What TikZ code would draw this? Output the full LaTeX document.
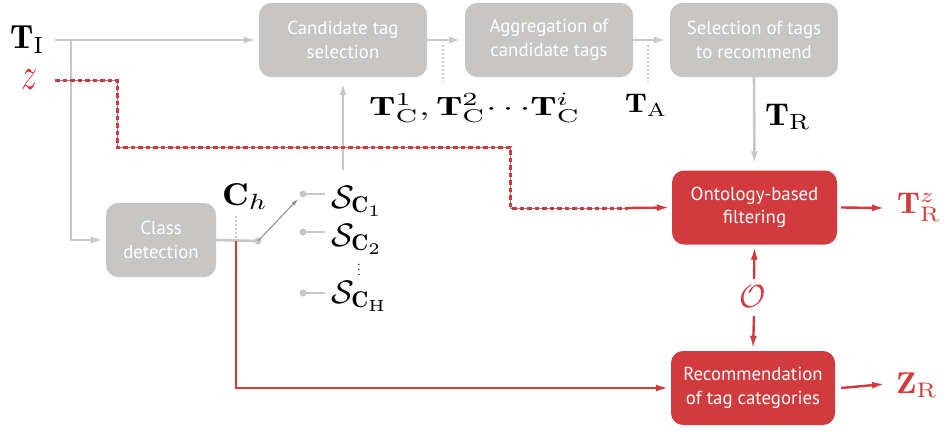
\documentclass[tikz,border=0pt]{standalone}
\usepackage{graphicx}
\usepackage{fontspec}
\newfontfamily\boxfont{PT Sans}
\usetikzlibrary{arrows.meta}
\definecolor{boxgray}{HTML}{C7C6C4}
\definecolor{linegray}{HTML}{C8C7C6}
\definecolor{myred}{HTML}{D23B3E}
\definecolor{darkgray}{HTML}{8A8A8A}
\newcommand\sbx[3]{\scalebox{#1}[#2]{$#3$}}
\begin{document}
\begin{tikzpicture}[x=1pt,y=-1pt,
  box/.style={rounded corners=12pt, minimum width=168pt, minimum height=74pt,
    align=center, font=\boxfont\fontsize{18.8}{23.5}\selectfont, text=white, inner sep=0pt},
  gbox/.style={box, fill=boxgray},
  rbox/.style={box, fill=myred},
  tip/.style={-{Latex[length=13pt,width=7pt]}},
  gline/.style={draw=linegray, line width=2.6pt},
  rline/.style={draw=myred, line width=2.4pt},
  gdot/.style={draw=linegray, line width=1.6pt, dash pattern=on 2pt off 2pt},
  lab/.style={inner sep=0pt, anchor=base west, font=\fontsize{10}{12}\selectfont},
  rlab/.style={lab, text=myred},
  dotnode/.style={circle, fill=linegray, inner sep=0pt, minimum size=7pt}
]
\useasboundingbox (0,0) rectangle (947,431);

% boxes
\node[gbox] (cts) at (343,40) {Candidate tag\\selection};
\node[gbox] (agg) at (549,40) {Aggregation of\\candidate tags};
\node[gbox] (sel) at (754,40) {Selection of tags\\to recommend};
\node[gbox, minimum width=110pt] (cd) at (161,240) {Class\\detection};
\node[rbox, minimum width=165pt] (of) at (754.5,207.5) {Ontology-based\\filtering};
\node[rbox, minimum width=164pt] (rec) at (753,388) {Recommendation\\of tag categories};

% labels
\node[lab] (lti) at (10,48) {\sbx{3.35}{3.35}{\mathbf{T}_{\mathrm{I}}}};
\node[rlab] (lz) at (21,89) {\sbx{3.2}{4.6}{z}};
\node[lab] (ltc) at (369,115) {\sbx{3.8}{2.65}{\mathbf{T}_{\mathrm{C}}^{1},\mathbf{T}_{\mathrm{C}}^{2}{\cdots}\mathbf{T}_{\mathrm{C}}^{i}}};
\node[lab] (lta) at (625,112) {\sbx{3.15}{2.7}{\mathbf{T}_{\mathrm{A}}}};
\node[lab] (ltr) at (765,125) {\sbx{3.45}{3.15}{\mathbf{T}_{\mathrm{R}}}};
\node[lab] (lch) at (222,205) {\sbx{3.7}{3.15}{\mathbf{C}_{h}}};
\node[lab] (s1) at (331,208) {\sbx{3.35}{3.25}{\mathcal{S}_{\mathbf{C}_1}}};
\node[lab] (s2) at (331,246) {\sbx{3.35}{3.25}{\mathcal{S}_{\mathbf{C}_2}}};
\node[lab] (sh) at (331,303) {\sbx{3.35}{3.25}{\mathcal{S}_{\mathbf{C}_{\mathrm{H}}}}};
\node[lab, anchor=center] (vd) at (359,266) {\sbx{1.5}{1.2}{\vdots}};
\node[rlab] (lo) at (739,307) {\sbx{3.2}{3.2}{\mathcal{O}}};
\node[rlab] (ltrz) at (897,213) {\sbx{3.3}{3.0}{\mathbf{T}_{\mathrm{R}}^{z}}};
\node[rlab] (lzr) at (896,393) {\sbx{3.35}{3.0}{\mathbf{Z}_{\mathrm{R}}}};

% coordinates
\coordinate (tis) at (55,40);
\coordinate (br) at (71,40);
\coordinate (zs) at (55,80);
\coordinate (z1) at (117,80);
\coordinate (z2) at (117,147);
\coordinate (z3) at (510,147);
\coordinate (z4) at (510,208);
\coordinate (z5) at (628,208);
\coordinate (sw) at (258,241);
\coordinate (chd) at (236,241);
\coordinate (s1u) at (343,170);
\coordinate (d1) at (443,45);
\coordinate (d1b) at (443,82);
\coordinate (d2) at (648,45);
\coordinate (d2b) at (648,82);
\coordinate (ou) at (754,279);
\coordinate (od) at (754,316);
\coordinate (e1) at (325,194);
\coordinate (e2) at (325,232);
\coordinate (e3) at (325,293);

% top flow
\draw[gline, tip] (tis) -- ([xshift=-2pt]cts.west);
\draw[gline, tip] (br) |- ([xshift=-2pt]cd.west);
\draw[gline, tip] (cts.east) -- ([xshift=-3pt]agg.west);
\draw[gline, tip] (agg.east) -- ([xshift=-3pt]sel.west);
\draw[gdot] (d1) -- (d1b);
\draw[gdot] (d2) -- (d2b);
\draw[gline, tip, shorten >=6pt] (sel.south) -- (of.north);
\draw[gline, tip, shorten >=5pt] (s1u) -- (s1u |- cts.south);

% z path
\draw[draw=darkgray, line width=0.8pt] (zs) -- (z1) -- (z2) -- (z3) -- (z4) -- (z5);
\draw[draw=myred, line width=3pt, dash pattern=on 4.5pt off 3pt] (zs) -- (z1) -- (z2) -- (z3) -- (z4) -- (z5);
\draw[rline, tip] (z5) -- ([xshift=-2pt]of.west);

% class detection output and switch
\draw[gline] (cd.east) -- (sw);
\draw[gdot] (236,216) -- (236,238);
\node[dotnode] (sd) at (sw) {};
\node[dotnode] (p1) at (303,194) {};
\node[dotnode] (p2) at (303,232) {};
\node[dotnode] (p3) at (303,293) {};
\draw[gline] (p1.center) -- (e1);
\draw[gline] (p2.center) -- (e2);
\draw[gline] (p3.center) -- (e3);
\draw[draw=darkgray, line width=1pt, -{Latex[length=7pt,width=4pt]}] (sw) -- (298,199);
\draw[rline, tip] (chd) |- ([xshift=-2pt]rec.west);

% ontology
\draw[rline, tip] (ou) -- ([yshift=-2pt]of.south);
\draw[rline, tip] (od) -- ([yshift=2pt]rec.north);
\draw[rline, tip] ([xshift=4pt]of.east) -- (885,208);
\draw[rline, tip] ([xshift=6pt]rec.east) -- (885,384);
\end{tikzpicture}
\end{document}
